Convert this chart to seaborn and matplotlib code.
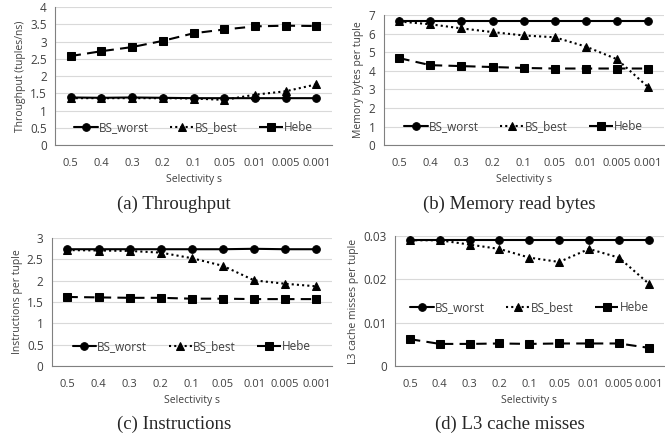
import numpy as np
import pandas as pd
import matplotlib
matplotlib.use("Agg")
import matplotlib.pyplot as plt
import seaborn as sns

selectivity = ["0.5", "0.4", "0.3", "0.2", "0.1", "0.05", "0.01", "0.005", "0.001"]
series_names = ["BS_worst", "BS_best", "Hebe"]

# (a) throughput
tp_worst = [1.38, 1.37, 1.38, 1.37, 1.36, 1.36, 1.36, 1.36, 1.36]
tp_best = [1.36, 1.36, 1.36, 1.36, 1.35, 1.31, 1.46, 1.56, 1.76]
tp_hebe = [2.58, 2.72, 2.84, 3.02, 3.24, 3.35, 3.44, 3.46, 3.45]

# (b) memory read bytes
mem_worst = [6.7, 6.7, 6.7, 6.7, 6.7, 6.7, 6.7, 6.7, 6.7]
mem_best = [6.65, 6.5, 6.28, 6.08, 5.9, 5.8, 5.3, 4.62, 3.12]
mem_hebe = [4.68, 4.3, 4.25, 4.2, 4.15, 4.12, 4.12, 4.12, 4.12]

# (c) instructions
ins_worst = [2.74, 2.74, 2.74, 2.74, 2.74, 2.74, 2.75, 2.74, 2.74]
ins_best = [2.72, 2.71, 2.70, 2.66, 2.53, 2.35, 2.01, 1.93, 1.87]
ins_hebe = [1.62, 1.61, 1.60, 1.60, 1.58, 1.58, 1.57, 1.57, 1.57]

# (d) L3 cache misses
l3_worst = [0.029, 0.029, 0.029, 0.029, 0.029, 0.029, 0.029, 0.029, 0.029]
l3_best = [0.029, 0.029, 0.028, 0.027, 0.025, 0.024, 0.027, 0.025, 0.019]
l3_hebe = [0.0062, 0.0051, 0.0051, 0.0052, 0.0051, 0.0052, 0.0052, 0.0052, 0.0042]

sns.set_style("white")
plt.rcParams["font.family"] = ["Open Sans", "DejaVu Sans"]

styles = {
    "BS_worst": dict(ls="-", marker="o"),
    "BS_best": dict(ls=(0, (1, 1.5)), marker="^"),
    "Hebe": dict(ls=(0, (5, 3)), marker="s"),
}

panels = [
    dict(vals=[tp_worst, tp_best, tp_hebe], ylabel="Throughput (tuples/ns)",
         yticks=np.arange(0, 4.01, 0.5), ylim=(0, 4), fmt="{:g}",
         rect=[0.083, 0.671, 0.416, 0.313], leg_y=0.13,
         caption="(a) Throughput", cap=(174, 204)),
    dict(vals=[mem_worst, mem_best, mem_hebe], ylabel="Memory bytes per tuple",
         yticks=np.arange(0, 7.01, 1), ylim=(0, 7), fmt="{:g}",
         rect=[0.577, 0.671, 0.421, 0.295], leg_y=0.14,
         caption="(b) Memory read bytes", cap=(509, 204)),
    dict(vals=[ins_worst, ins_best, ins_hebe], ylabel="Instructions per tuple",
         yticks=np.arange(0, 3.01, 0.5), ylim=(0, 3), fmt="{:g}",
         rect=[0.078, 0.170, 0.421, 0.290], leg_y=0.15,
         caption="(c) Instructions", cap=(174, 424)),
    dict(vals=[l3_worst, l3_best, l3_hebe], ylabel="L3 cache misses per tuple",
         yticks=[0, 0.01, 0.02, 0.03], ylim=(0, 0.03), fmt="{:.2f}",
         rect=[0.594, 0.170, 0.404, 0.295], leg_y=0.45,
         caption="(d) L3 cache misses", cap=(510, 424)),
]

fig = plt.figure(figsize=(6.65, 4.41), dpi=100)
x = np.arange(len(selectivity))

for p in panels:
    ax = fig.add_axes(p["rect"])
    for name, vals in zip(series_names, p["vals"]):
        st = styles[name]
        sns.lineplot(x=x, y=vals, ax=ax, color="black", linestyle=st["ls"],
                     marker=st["marker"], markersize=5.5, markeredgecolor="black",
                     linewidth=1.5, label=name)
    ax.set_xlim(-0.5, len(selectivity) - 0.5)
    ax.set_ylim(*p["ylim"])
    ax.set_yticks(p["yticks"])
    ax.set_yticklabels([p["fmt"].format(v) if v != 0 else "0" for v in p["yticks"]],
                       fontsize=8.5, color="#404040")
    ax.set_xticks(x)
    ax.set_xticklabels(selectivity, fontsize=8, color="#404040")
    ax.set_xticks(np.arange(-0.5, len(selectivity), 1), minor=True)
    ax.tick_params(axis="x", which="major", length=0, pad=9)
    ax.tick_params(axis="x", which="minor", length=4, color="#808080", direction="out")
    ax.tick_params(axis="y", length=4, color="#808080", direction="out", pad=2)
    ax.yaxis.grid(True, color="#d9d9d9", linewidth=0.8)
    ax.set_axisbelow(True)
    for s in ["top", "right"]:
        ax.spines[s].set_visible(False)
    for s in ["left", "bottom"]:
        ax.spines[s].set_color("#808080")
        ax.spines[s].set_linewidth(0.8)
    ax.set_xlabel("Selectivity s", fontsize=7.5, color="#404040", labelpad=4)
    ax.set_ylabel(p["ylabel"], fontsize=7.5, color="#404040", labelpad=3)
    ax.legend(loc="center", bbox_to_anchor=(0.5, p["leg_y"]), ncol=3, frameon=False,
              fontsize=8.5, handlelength=2.0, handletextpad=0.1, columnspacing=1.8,
              labelcolor="#404040")
    fig.text(p["cap"][0] / 665, 1 - p["cap"][1] / 441, p["caption"],
             ha="center", va="center", fontsize=13.5,
             family=["Liberation Serif", "DejaVu Serif"])

fig.savefig("out.png", dpi=100)
